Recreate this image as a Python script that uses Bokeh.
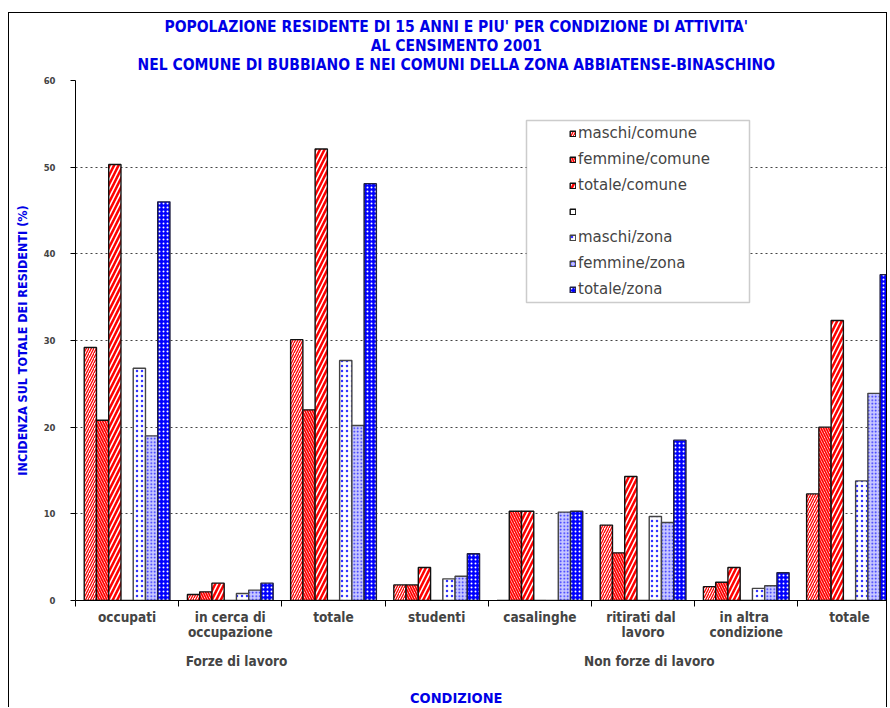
from bokeh.plotting import figure
from bokeh.models import Range1d, FixedTicker, BoxAnnotation, Legend, LegendItem, LinearAxis
from bokeh.embed import file_html
from bokeh.resources import INLINE

# ---- data -------------------------------------------------------------
categories = ["occupati", "in cerca di\noccupazione", "totale", "studenti",
              "casalinghe", "ritirati  dal\nlavoro", "in  altra\ncondizione", "totale"]
group_names = ["Forze di lavoro", "Non forze di lavoro"]
group_first = [0, 3]
group_last = [3, 8]

series_names = ["maschi/comune", "femmine/comune", "totale/comune", " ",
                "maschi/zona", "femmine/zona", "totale/zona"]
maschi_comune = [29.2, 0.7, 30.1, 1.8, 0.0, 8.7, 1.6, 12.3]
femmine_comune = [20.8, 1.0, 22.0, 1.8, 10.3, 5.5, 2.1, 20.0]
totale_comune = [50.3, 2.0, 52.1, 3.8, 10.3, 14.3, 3.8, 32.3]
serie_vuota = [0.0, 0.0, 0.0, 0.0, 0.0, 0.0, 0.0, 0.0]
maschi_zona = [26.8, 0.8, 27.7, 2.5, 0.0, 9.7, 1.4, 13.8]
femmine_zona = [19.0, 1.2, 20.2, 2.8, 10.2, 9.0, 1.7, 23.9]
totale_zona = [46.0, 2.0, 48.1, 5.4, 10.3, 18.5, 3.2, 37.6]
all_series = [maschi_comune, femmine_comune, totale_comune, serie_vuota,
              maschi_zona, femmine_zona, totale_zona]

y_ticks = [0, 10, 20, 30, 40, 50, 60]

title_text = ("POPOLAZIONE RESIDENTE DI 15 ANNI E PIU' PER CONDIZIONE DI ATTIVITA'\n"
              "AL CENSIMENTO 2001\n"
              "NEL COMUNE DI BUBBIANO E NEI COMUNI DELLA ZONA ABBIATENSE-BINASCHINO")
y_title = "INCIDENZA SUL TOTALE DEI RESIDENTI (%)"
x_title = "CONDIZIONE"

# ---- styles -----------------------------------------------------------
BLUE_TXT = "#0000e6"
COND = "DejaVu Sans Condensed"
styles = [
    dict(fill_color="white", hatch_pattern="right_diagonal_line", hatch_color="#ff0000",
         hatch_scale=5, hatch_weight=1.3, line_color="#111111"),
    dict(fill_color="white", hatch_pattern="left_diagonal_line", hatch_color="#ff0000",
         hatch_scale=5, hatch_weight=1.7, line_color="#111111"),
    dict(fill_color="#ff0000", hatch_pattern="right_diagonal_line", hatch_color="white",
         hatch_scale=9, hatch_weight=1.6, line_color="#111111"),
    dict(fill_color="white", line_color="#111111"),
    dict(fill_color="white", hatch_pattern="dot", hatch_color="#3333ff",
         hatch_scale=5, hatch_weight=1, line_color="#444444"),
    dict(fill_color="#c8c8ff", hatch_pattern="dot", hatch_color="#2020ff",
         hatch_scale=3.5, hatch_weight=1.8, line_color="#444444"),
    dict(fill_color="#0000ff", hatch_pattern="dot", hatch_color="white",
         hatch_scale=4, hatch_weight=1, line_color="#222244"),
]

n_cat = len(categories)
n_ser = len(all_series)
slot = 0.1187
gap = (1 - n_ser * slot) / 2
page_center = 3.69          # x (in category units) of the centre line used by the headings
group_nudge = 0.06

p = figure(width=879, height=695, output_backend="svg", toolbar_location=None,
           x_range=Range1d(0, 7.878), y_range=Range1d(0, 60),
           min_border_left=66, min_border_right=0, min_border_top=67, min_border_bottom=107,
           margin=(12, 0, 0, 8))
p.styles = {"border-left": "1px solid black", "border-top": "1px solid black",
            "border-right": "1px solid black"}
p.outline_line_color = None
p.background_fill_color = "white"
p.border_fill_color = "white"

# y axis
p.yaxis.ticker = FixedTicker(ticks=y_ticks)
p.yaxis.major_tick_out = 5
p.yaxis.major_tick_in = 0
p.yaxis.minor_tick_out = 0
p.yaxis.minor_tick_in = 0
p.yaxis.major_label_standoff = 15
p.yaxis.major_label_text_font = "DejaVu Sans"
p.yaxis.major_label_text_font_style = "bold"
p.yaxis.major_label_text_font_size = "8.5px"
p.yaxis.axis_line_color = "black"
p.yaxis.major_tick_line_color = "black"
p.yaxis.axis_label = y_title
p.yaxis.axis_label_standoff = 11
p.yaxis.axis_label_text_font = COND
p.yaxis.axis_label_text_font_style = "bold"
p.yaxis.axis_label_text_font_size = "12.5px"
p.yaxis.axis_label_text_color = BLUE_TXT

# x axis: boundary ticks as minor ticks, category names at the centres
cat_centers = [i + 0.5 for i in range(n_cat)]
p.xaxis.ticker = FixedTicker(ticks=cat_centers, minor_ticks=list(range(n_cat + 1)))
p.xaxis.major_label_overrides = {c: name for c, name in zip(cat_centers, categories)}
p.xaxis.major_tick_out = 0
p.xaxis.major_tick_in = 0
p.xaxis.major_tick_line_color = None
p.xaxis.minor_tick_out = 6
p.xaxis.minor_tick_in = 0
p.xaxis.minor_tick_line_color = "black"
p.xaxis.axis_line_color = "black"
p.xaxis.major_label_standoff = 2
p.xaxis.major_label_text_font = COND
p.xaxis.major_label_text_font_style = "bold"
p.xaxis.major_label_text_font_size = "13.5px"
p.xaxis.major_label_text_line_height = 0.95

# group names
group_centers = [(a + b) / 2 + group_nudge for a, b in zip(group_first, group_last)]
gaxis = LinearAxis(ticker=FixedTicker(ticks=group_centers),
                   major_label_overrides={c: g for c, g in zip(group_centers, group_names)},
                   axis_line_color=None, major_tick_line_color=None, minor_tick_line_color=None,
                   major_tick_out=0, minor_tick_out=0, major_label_standoff=10,
                   major_label_text_font=COND, major_label_text_font_style="bold",
                   major_label_text_font_size="13.5px", major_label_text_line_height=0.9)
p.add_layout(gaxis, "below")

# x title
taxis = LinearAxis(ticker=FixedTicker(ticks=[page_center]),
                   major_label_overrides={page_center: x_title},
                   axis_line_color=None, major_tick_line_color=None, minor_tick_line_color=None,
                   major_tick_out=0, minor_tick_out=0, major_label_standoff=18,
                   major_label_text_font=COND, major_label_text_font_style="bold",
                   major_label_text_font_size="14.5px", major_label_text_line_height=0.9,
                   major_label_text_color=BLUE_TXT)
p.add_layout(taxis, "below")

# chart heading
haxis = LinearAxis(ticker=FixedTicker(ticks=[page_center]),
                   major_label_overrides={page_center: title_text},
                   axis_line_color=None, major_tick_line_color=None, minor_tick_line_color=None,
                   major_tick_out=0, minor_tick_out=0, major_label_standoff=7,
                   major_label_text_font=COND, major_label_text_font_style="bold",
                   major_label_text_font_size="15.5px", major_label_text_line_height=1.04,
                   major_label_text_color=BLUE_TXT)
p.add_layout(haxis, "above")

p.xgrid.visible = False
p.ygrid.ticker = FixedTicker(ticks=y_ticks)
p.ygrid.grid_line_color = "#444444"
p.ygrid.grid_line_dash = "2 3"
p.ygrid.grid_line_width = 1

# bars
renderers = []
for j, (vals, st) in enumerate(zip(all_series, styles)):
    xs = [i + gap + slot * (j + 0.5) for i in range(n_cat)]
    r = p.vbar(x=xs, top=vals, bottom=0, width=slot, line_width=1.4, **st)
    renderers.append(r)

# legend box and legend
p.add_layout(BoxAnnotation(left=451, right=674, top=480, bottom=298,
                           left_units="screen", right_units="screen",
                           top_units="screen", bottom_units="screen",
                           fill_color="white", fill_alpha=1,
                           line_color="#555555", line_width=1.5))
legend = Legend(items=[LegendItem(label=name, renderers=[r]) for name, r in zip(series_names, renderers)],
                location=(494, 301), padding=0, margin=0, spacing=6,
                glyph_width=7, glyph_height=7, label_height=20, label_standoff=2,
                label_text_font="DejaVu Sans", label_text_font_size="15px",
                border_line_alpha=0, background_fill_alpha=0)
p.add_layout(legend)

open("out.html", "w").write(file_html(p, INLINE))
